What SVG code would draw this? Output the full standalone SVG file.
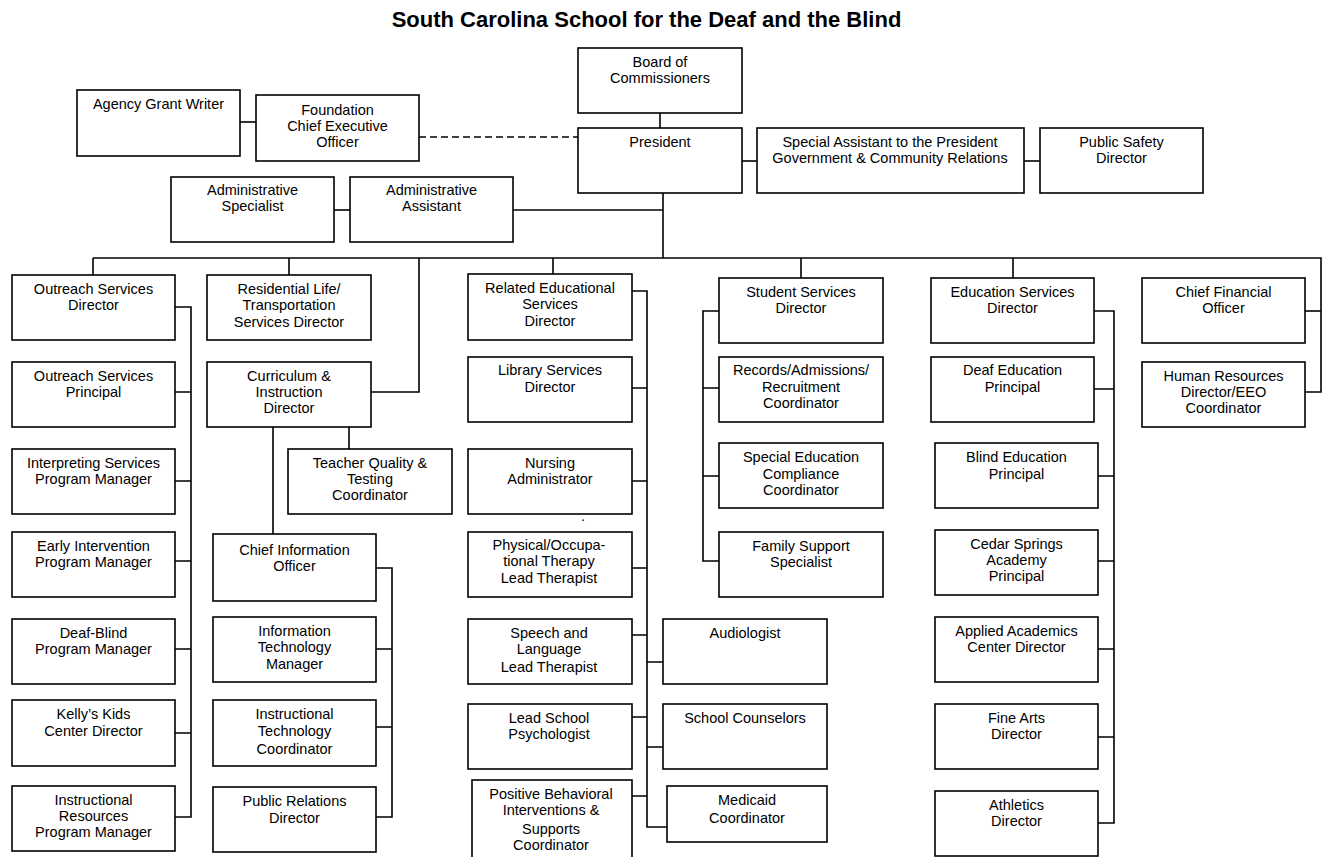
<svg xmlns="http://www.w3.org/2000/svg" width="1324" height="857" viewBox="0 0 1324 857">
<style>
.bg{fill:#fff}
.box{fill:#fff;stroke:#000;stroke-width:1.6}
.t{font-family:"Liberation Sans",Arial,sans-serif;font-size:14.5px;text-anchor:middle;fill:#000}
.title{font-family:"Liberation Sans",Arial,sans-serif;font-size:22px;font-weight:bold;text-anchor:middle;fill:#000}
.c{stroke:#000;stroke-width:1.6;fill:none}
.d{stroke:#000;stroke-width:1.6;fill:none;stroke-dasharray:7 4}
</style>
<rect class="bg" x="0" y="0" width="1324" height="857"/>
<text class="title" x="646.5" y="27">South Carolina School for the Deaf and the Blind</text>

<g id="connectors">
<path class="c" d="M660,113V128"/>
<path class="d" d="M419,137H578"/>
<path class="c" d="M240,122H256"/>
<path class="c" d="M742,161H757"/>
<path class="c" d="M1024,161H1040"/>
<path class="c" d="M663,193V258"/>
<path class="c" d="M513,210H663"/>
<path class="c" d="M334,210H350"/>
<path class="c" d="M93,258H1321V392H1305"/>
<path class="c" d="M1305,311H1321"/>
<path class="c" d="M93,258V275M289,258V275M553,258V274M801,258V278M1013,258V278"/>
<path class="c" d="M419,258V392H371"/>
<path class="c" d="M175,307H191V817H175M175,392H191M175,481H191M175,561H191M175,649H191M175,733H191"/>
<path class="c" d="M273,427V534M349,427V449"/>
<path class="c" d="M376,568H392V817H376M376,649H392M376,727H392"/>
<path class="c" d="M632,291H647V827H667M632,388H647M632,481H647M632,568H647M632,635H647M632,717H647M632,796H647M647,662H663M647,747H663"/>
<path class="c" d="M719,311H703V561H719M703,388H719M703,476H719"/>
<path class="c" d="M1094,311H1114V823H1098M1094,389H1114M1098,476H1114M1098,561H1114M1098,649H1114M1098,737H1114"/>
</g>

<g id="board"><rect class="box" x="578" y="48" width="164" height="65"/><text class="t" x="660" y="67">Board of<tspan x="660" dy="16">Commissioners</tspan></text></g>
<g id="president"><rect class="box" x="578" y="128" width="164" height="65"/><text class="t" x="660" y="147">President</text></g>
<g id="special-assistant"><rect class="box" x="757" y="128" width="267" height="65"/><text class="t" x="890" y="147">Special Assistant to the President<tspan x="890" dy="16">Government &amp; Community Relations</tspan></text></g>
<g id="public-safety"><rect class="box" x="1040" y="128" width="163" height="65"/><text class="t" x="1121.5" y="147">Public Safety<tspan x="1121.5" dy="16">Director</tspan></text></g>
<g id="grant-writer"><rect class="box" x="77" y="90" width="163" height="66"/><text class="t" x="158.5" y="109">Agency Grant Writer</text></g>
<g id="foundation"><rect class="box" x="256" y="95" width="163" height="66"/><text class="t" x="337.5" y="115">Foundation<tspan x="337.5" dy="16">Chief Executive</tspan><tspan x="337.5" dy="16">Officer</tspan></text></g>
<g id="admin-specialist"><rect class="box" x="171" y="177" width="163" height="65"/><text class="t" x="252.5" y="195">Administrative<tspan x="252.5" dy="16">Specialist</tspan></text></g>
<g id="admin-assistant"><rect class="box" x="350" y="177" width="163" height="65"/><text class="t" x="431.5" y="195">Administrative<tspan x="431.5" dy="16">Assistant</tspan></text></g>

<g id="outreach-director"><rect class="box" x="12" y="275" width="163" height="65"/><text class="t" x="93.5" y="294">Outreach Services<tspan x="93.5" dy="16">Director</tspan></text></g>
<g id="outreach-principal"><rect class="box" x="12" y="362" width="163" height="65"/><text class="t" x="93.5" y="381">Outreach Services<tspan x="93.5" dy="16">Principal</tspan></text></g>
<g id="interpreting"><rect class="box" x="12" y="449" width="163" height="65"/><text class="t" x="93.5" y="468">Interpreting Services<tspan x="93.5" dy="16">Program Manager</tspan></text></g>
<g id="early-intervention"><rect class="box" x="12" y="532" width="163" height="65"/><text class="t" x="93.5" y="551">Early Intervention<tspan x="93.5" dy="16">Program Manager</tspan></text></g>
<g id="deaf-blind"><rect class="box" x="12" y="619" width="163" height="65"/><text class="t" x="93.5" y="638">Deaf-Blind<tspan x="93.5" dy="16">Program Manager</tspan></text></g>
<g id="kellys-kids"><rect class="box" x="12" y="700" width="163" height="66"/><text class="t" x="93.5" y="719">Kelly’s Kids<tspan x="93.5" dy="17">Center Director</tspan></text></g>
<g id="instructional-resources"><rect class="box" x="12" y="786" width="163" height="65"/><text class="t" x="93.5" y="805">Instructional<tspan x="93.5" dy="16">Resources</tspan><tspan x="93.5" dy="16">Program Manager</tspan></text></g>

<g id="residential-life"><rect class="box" x="207" y="275" width="164" height="65"/><text class="t" x="289" y="294">Residential Life/<tspan x="289" dy="16">Transportation</tspan><tspan x="289" dy="17">Services Director</tspan></text></g>
<g id="curriculum"><rect class="box" x="207" y="362" width="164" height="65"/><text class="t" x="289" y="381">Curriculum &amp;<tspan x="289" dy="16">Instruction</tspan><tspan x="289" dy="16">Director</tspan></text></g>
<g id="teacher-quality"><rect class="box" x="288" y="449" width="164" height="65"/><text class="t" x="370" y="468">Teacher Quality &amp;<tspan x="370" dy="16">Testing</tspan><tspan x="370" dy="16">Coordinator</tspan></text></g>
<g id="cio"><rect class="box" x="213" y="534" width="163" height="67"/><text class="t" x="294.5" y="555">Chief Information<tspan x="294.5" dy="16">Officer</tspan></text></g>
<g id="it-manager"><rect class="box" x="213" y="617" width="163" height="65"/><text class="t" x="294.5" y="636">Information<tspan x="294.5" dy="16">Technology</tspan><tspan x="294.5" dy="17">Manager</tspan></text></g>
<g id="it-coordinator"><rect class="box" x="213" y="700" width="163" height="66"/><text class="t" x="294.5" y="719">Instructional<tspan x="294.5" dy="17">Technology</tspan><tspan x="294.5" dy="18">Coordinator</tspan></text></g>
<g id="public-relations"><rect class="box" x="213" y="787" width="163" height="65"/><text class="t" x="294.5" y="806">Public Relations<tspan x="294.5" dy="17">Director</tspan></text></g>

<g id="related-educational"><rect class="box" x="468" y="274" width="164" height="66"/><text class="t" x="550" y="293">Related Educational<tspan x="550" dy="16">Services</tspan><tspan x="550" dy="17">Director</tspan></text></g>
<g id="library"><rect class="box" x="468" y="357" width="164" height="65"/><text class="t" x="550" y="375">Library Services<tspan x="550" dy="17">Director</tspan></text></g>
<g id="nursing"><rect class="box" x="468" y="449" width="164" height="65"/><text class="t" x="550" y="468">Nursing<tspan x="550" dy="16">Administrator</tspan></text></g>
<text class="t" x="583" y="521">.</text>
<g id="physical-therapy"><rect class="box" x="468" y="532" width="164" height="65"/><text class="t" x="549" y="550">Physical/Occupa-<tspan x="549" dy="16">tional Therapy</tspan><tspan x="549" dy="17">Lead Therapist</tspan></text></g>
<g id="speech"><rect class="box" x="468" y="619" width="164" height="65"/><text class="t" x="549" y="638">Speech and<tspan x="549" dy="16">Language</tspan><tspan x="549" dy="18">Lead Therapist</tspan></text></g>
<g id="psychologist"><rect class="box" x="468" y="704" width="164" height="65"/><text class="t" x="549" y="723">Lead School<tspan x="549" dy="16">Psychologist</tspan></text></g>
<g id="pbis"><rect class="box" x="472" y="780" width="160" height="90"/><text class="t" x="551" y="799">Positive Behavioral<tspan x="551" dy="16">Interventions &amp;</tspan><tspan x="551" dy="19">Supports</tspan><tspan x="551" dy="16">Coordinator</tspan></text></g>
<g id="audiologist"><rect class="box" x="663" y="619" width="164" height="65"/><text class="t" x="745" y="638">Audiologist</text></g>
<g id="counselors"><rect class="box" x="663" y="704" width="164" height="65"/><text class="t" x="745" y="723">School Counselors</text></g>
<g id="medicaid"><rect class="box" x="667" y="786" width="160" height="56"/><text class="t" x="747" y="805">Medicaid<tspan x="747" dy="18">Coordinator</tspan></text></g>

<g id="student-services"><rect class="box" x="719" y="278" width="164" height="65"/><text class="t" x="801" y="297">Student Services<tspan x="801" dy="16">Director</tspan></text></g>
<g id="records"><rect class="box" x="719" y="357" width="164" height="65"/><text class="t" x="801" y="375">Records/Admissions/<tspan x="801" dy="17">Recruitment</tspan><tspan x="801" dy="16">Coordinator</tspan></text></g>
<g id="special-education"><rect class="box" x="719" y="443" width="164" height="65"/><text class="t" x="801" y="462">Special Education<tspan x="801" dy="17">Compliance</tspan><tspan x="801" dy="16">Coordinator</tspan></text></g>
<g id="family-support"><rect class="box" x="719" y="532" width="164" height="65"/><text class="t" x="801" y="551">Family Support<tspan x="801" dy="16">Specialist</tspan></text></g>

<g id="education-services"><rect class="box" x="931" y="278" width="163" height="65"/><text class="t" x="1012.5" y="297">Education Services<tspan x="1012.5" dy="16">Director</tspan></text></g>
<g id="deaf-education"><rect class="box" x="931" y="357" width="163" height="65"/><text class="t" x="1012.5" y="375">Deaf Education<tspan x="1012.5" dy="17">Principal</tspan></text></g>
<g id="blind-education"><rect class="box" x="935" y="443" width="163" height="65"/><text class="t" x="1016.5" y="462">Blind Education<tspan x="1016.5" dy="17">Principal</tspan></text></g>
<g id="cedar-springs"><rect class="box" x="935" y="530" width="163" height="65"/><text class="t" x="1016.5" y="549">Cedar Springs<tspan x="1016.5" dy="16">Academy</tspan><tspan x="1016.5" dy="16">Principal</tspan></text></g>
<g id="applied-academics"><rect class="box" x="935" y="617" width="163" height="65"/><text class="t" x="1016.5" y="636">Applied Academics<tspan x="1016.5" dy="16">Center Director</tspan></text></g>
<g id="fine-arts"><rect class="box" x="935" y="704" width="163" height="65"/><text class="t" x="1016.5" y="723">Fine Arts<tspan x="1016.5" dy="16">Director</tspan></text></g>
<g id="athletics"><rect class="box" x="935" y="791" width="163" height="65"/><text class="t" x="1016.5" y="810">Athletics<tspan x="1016.5" dy="16">Director</tspan></text></g>

<g id="cfo"><rect class="box" x="1142" y="278" width="163" height="65"/><text class="t" x="1223.5" y="297">Chief Financial<tspan x="1223.5" dy="16">Officer</tspan></text></g>
<g id="human-resources"><rect class="box" x="1142" y="362" width="163" height="65"/><text class="t" x="1223.5" y="381">Human Resources<tspan x="1223.5" dy="16">Director/EEO</tspan><tspan x="1223.5" dy="16">Coordinator</tspan></text></g>
</svg>
